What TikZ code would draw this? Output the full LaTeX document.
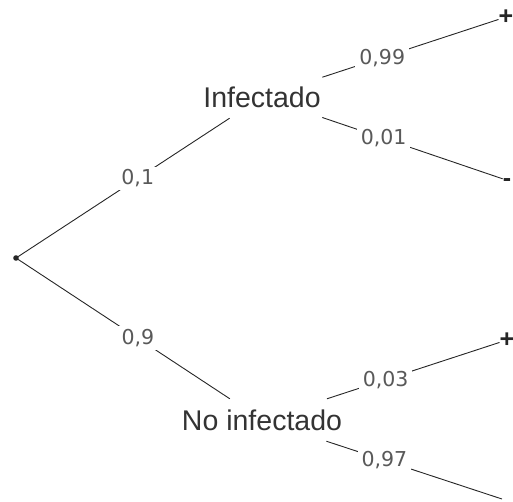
\documentclass[tikz,border=0pt]{standalone}
\usepackage{fontspec}
\setmainfont{Liberation Sans}
\newfontfamily\numfont{DejaVu Sans}
\usetikzlibrary{positioning}

\begin{document}
\begin{tikzpicture}[
  x=1pt, y=-1pt,
  state/.style={font=\fontsize{28.5}{30}\selectfont, text=black!80, inner xsep=1.5pt, inner ysep=0pt, minimum height=42pt},
  leaf/.style={font=\bfseries\fontsize{25}{27}\selectfont, text=black!85, inner sep=0pt},
  prob/.style={font=\numfont\fontsize{20.5}{22}\selectfont, text=black!65, fill=white, inner xsep=4pt, inner ysep=3pt},
  branch/.style={draw=black!85, line width=0.9pt}
]
\useasboundingbox (0,0) rectangle (513,501);
\coordinate (root) at (16,258);
\node[state] (inf) at (262,97) {Infectado};
\node[state] (noinf) at (262,420) {No infectado};
\node[leaf] (pos1) at (506,17) {+};
\node[leaf] (neg1) at (507,183) {-};
\node[leaf] (pos2) at (507,340) {+};
\coordinate (neg2) at (502,499);
\fill[black!85] (root) circle (2.8pt);
\draw[branch] (root) -- node[prob, pos=.57] (p1) {0,1} (inf);
\draw[branch] (root) -- node[prob, pos=.57] (p2) {0,9} (noinf);
\draw[branch] (inf) -- node[prob, pos=.34] (p11) {0,99} (pos1);
\draw[branch] (inf) -- node[prob, pos=.34] (p12) {0,01} (neg1.north west);
\draw[branch] (noinf) -- node[prob, pos=.34] (p21) {0,03} (pos2);
\draw[branch] (noinf) -- node[prob, pos=.33] (p22) {0,97} (neg2);
\end{tikzpicture}
\end{document}
